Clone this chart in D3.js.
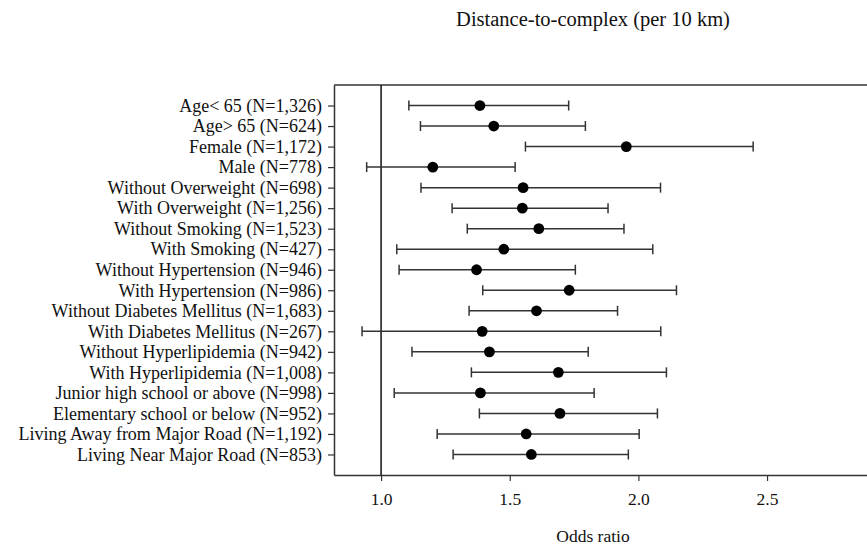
<!DOCTYPE html>
<html>
<head>
<meta charset="utf-8">
<script src="https://cdn.jsdelivr.net/npm/d3@7"></script>
<style>
  body { margin: 0; background: #fff; }
  svg text { font-family: "Liberation Serif", "Times New Roman", serif; fill: #111; }
</style>
</head>
<body>
<div id="chart"></div>
<script>
// subgroup labels, odds ratios and 95% CI bounds
var groups = ["Age< 65 (N=1,326)", "Age> 65 (N=624)", "Female (N=1,172)", "Male (N=778)",
  "Without Overweight (N=698)", "With Overweight (N=1,256)", "Without Smoking (N=1,523)",
  "With Smoking (N=427)", "Without Hypertension (N=946)", "With Hypertension (N=986)",
  "Without Diabetes Mellitus (N=1,683)", "With Diabetes Mellitus (N=267)",
  "Without Hyperlipidemia (N=942)", "With Hyperlipidemia (N=1,008)",
  "Junior high school or above (N=998)", "Elementary school or below (N=952)",
  "Living Away from Major Road (N=1,192)", "Living Near Major Road (N=853)"];
var oddsRatio = [1.384, 1.438, 1.953, 1.201, 1.552, 1.549, 1.613, 1.477, 1.371, 1.731,
  1.604, 1.393, 1.421, 1.689, 1.386, 1.695, 1.564, 1.584];
var ciLower = [1.108, 1.153, 1.561, 0.944, 1.155, 1.276, 1.335, 1.061, 1.070, 1.395,
  1.342, 0.926, 1.120, 1.351, 1.051, 1.382, 1.218, 1.280];
var ciUpper = [1.729, 1.794, 2.446, 1.521, 2.086, 1.882, 1.944, 2.056, 1.755, 2.148,
  1.919, 2.087, 1.805, 2.109, 1.828, 2.074, 2.003, 1.961];
var xTicks = [1.0, 1.5, 2.0, 2.5];

function forestPlot(chartarea) {

  var data = groups.map(function(g, i) {
    return { group: g, or: oddsRatio[i], lo: ciLower[i], hi: ciUpper[i] };
  });

  var W = 867, H = 547;
  var margin = {left: 334, top: 85, bottom: 475};

  var svg = d3.select(chartarea).append("svg")
    .attr("width", W).attr("height", H);

  var x = d3.scaleLinear().domain([0.817, 2.9]).range([margin.left, margin.left + (2.9 - 0.817) * 257.3]);
  var y = d3.scalePoint().domain(groups).range([margin.top, margin.bottom]).padding(1);

  // top frame line
  svg.append("line")
    .attr("x1", margin.left).attr("x2", W + 5).attr("y1", margin.top).attr("y2", margin.top)
    .attr("stroke", "#333").attr("stroke-width", 1.5);

  var xAxis = svg.append("g")
    .attr("transform", "translate(0," + margin.bottom + ")")
    .call(d3.axisBottom(x).tickValues(xTicks).tickFormat(d3.format(".1f")).tickSize(6).tickSizeOuter(0).tickPadding(12));
  xAxis.select(".domain").attr("stroke", "#333").attr("stroke-width", 1.5);
  xAxis.selectAll(".tick line").attr("stroke", "#333").attr("stroke-width", 1.2);
  xAxis.selectAll("text").attr("font-size", "17.5px").attr("font-family", "Liberation Serif").attr("fill", "#111");

  var yAxis = svg.append("g")
    .attr("transform", "translate(" + margin.left + ",0)")
    .call(d3.axisLeft(y).tickSize(6).tickSizeOuter(0).tickPadding(6));
  yAxis.select(".domain").attr("stroke", "#333").attr("stroke-width", 1.5);
  yAxis.selectAll(".tick line").attr("stroke", "#333").attr("stroke-width", 1.2);
  yAxis.selectAll("text").attr("font-size", "18px").attr("font-family", "Liberation Serif").attr("fill", "#111");

  // reference line at OR = 1
  svg.append("line")
    .attr("x1", x(1)).attr("x2", x(1)).attr("y1", margin.top).attr("y2", margin.bottom)
    .attr("stroke", "#111").attr("stroke-width", 1.5);

  // confidence intervals
  var rows = svg.append("g").selectAll("g").data(data).enter().append("g");

  rows.append("line")
    .attr("x1", function(d) { return x(d.lo); })
    .attr("x2", function(d) { return x(d.hi); })
    .attr("y1", function(d) { return y(d.group); })
    .attr("y2", function(d) { return y(d.group); })
    .attr("stroke", "#333").attr("stroke-width", 1.5);

  ["lo", "hi"].forEach(function(k) {
    rows.append("line")
      .attr("x1", function(d) { return x(d[k]); })
      .attr("x2", function(d) { return x(d[k]); })
      .attr("y1", function(d) { return y(d.group) - 5; })
      .attr("y2", function(d) { return y(d.group) + 5; })
      .attr("stroke", "#333").attr("stroke-width", 1.5);
  });

  rows.append("circle")
    .attr("cx", function(d) { return x(d.or); })
    .attr("cy", function(d) { return y(d.group); })
    .attr("r", 5.4)
    .attr("fill", "#000");

  // title and axis label
  svg.append("text")
    .attr("x", 593).attr("y", 26)
    .attr("text-anchor", "middle")
    .attr("font-size", "20.5px")
    .text("Distance-to-complex (per 10 km)");

  svg.append("text")
    .attr("x", 593).attr("y", 542)
    .attr("text-anchor", "middle")
    .attr("font-size", "17.5px")
    .text("Odds ratio");
}

forestPlot("#chart");
</script>
</body>
</html>
